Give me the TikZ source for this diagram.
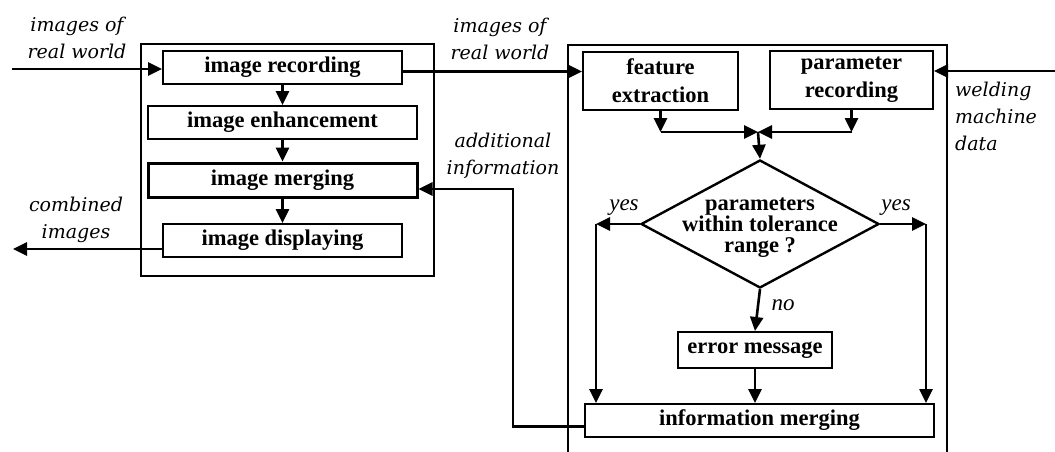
\documentclass[tikz,border=0pt]{standalone}
\usepackage{fontspec}
\setmainfont{Liberation Serif}
\newfontfamily\notefont{DejaVu Serif}
\usetikzlibrary{arrows.meta,shapes.geometric}

\begin{document}
\begin{tikzpicture}[x=1pt,y=-1pt,
		box/.style={draw, line width=2pt, inner sep=0pt, align=center, font=\fontsize{22.5}{28}\selectfont\bfseries},
		decision/.style={draw, diamond, line width=2.4pt, inner sep=0pt},
		frame/.style={draw, line width=2.6pt},
		arr/.style={line width=2.6pt, -{Triangle[length=14pt,width=13pt]}},
		note/.style={inner sep=0pt, align=center, font=\notefont\itshape\fontsize{19}{27}\selectfont},
		answer/.style={inner sep=0pt, font=\itshape\fontsize{23}{26}\selectfont}]
		\useasboundingbox (0,0) rectangle (1055,452);
		
		% frames
		\node[frame, minimum width=293pt, minimum height=232pt] (left) at (287.5,160) {};
		\draw[frame] (568,452) -- (568,45) -- (947,45) -- (947,452);
		
		% image side
		\node[box, minimum width=239pt, minimum height=33pt] (rec) at (282.5,67.5) {image recording};
		\node[box, minimum width=269pt, minimum height=33pt] (enh) at (282.5,122.5) {image enhancement};
		\node[box, line width=3pt, minimum width=269pt, minimum height=34pt] (mer) at (282.5,180) {image merging};
		\node[box, minimum width=239pt, minimum height=33pt] (dsp) at (282.5,240.5) {image displaying};
		
		% checking side
		\node[box, minimum width=155pt, minimum height=58pt] (fex) at (660.5,81) {feature\\extraction};
		\node[box, minimum width=163pt, minimum height=58pt] (par) at (851.5,80) {parameter\\recording};
		\node[decision, minimum width=238pt, minimum height=128pt] (tol) at (760,224) {};
		\node[align=center, inner sep=0pt, font=\fontsize{22.5}{21}\selectfont\bfseries] (toltext) at (760,228) {parameters\\within tolerance\\range ?};
		\node[box, minimum width=154pt, minimum height=36pt] (err) at (755,350) {error message};
		\node[box, minimum width=349pt, minimum height=33pt] (inf) at (759.5,420.5) {information merging};
		
		\coordinate (srcL) at (12,69);
		\coordinate (dstL) at (13,249);
		\coordinate (weld) at (1055,71);
		\coordinate (join) at (758,132);
		\coordinate (yesL) at (596,224);
		\coordinate (yesR) at (926,224);
		\coordinate (back) at (513,189);
		
		% labels
		\node[note] (inL) at (77,38) {images of\\real world};
		\node[note] (inM) at (500,39) {images of\\real world};
		\node[note] (comb) at (76,220) {combined\\images};
		\node[note] (addi) at (503,156) {additional\\information};
		\node[note, align=left, anchor=west] (wmd) at (955,116) {welding\\machine\\data};
		\node[answer] (yesl) at (624,208) {yes};
		\node[answer] (yesr) at (896,208) {yes};
		\node[answer] (no) at (783,305) {no};
		
		% connectors
		\draw[arr] (srcL) -- (srcL -| rec.west);
		\draw[arr] (rec.south) -- (enh.north);
		\draw[arr] (enh.south) -- (mer.north);
		\draw[arr] (mer.south) -- (dsp.north);
		\draw[arr] (dsp.west |- dstL) -- (dstL);
		\draw[arr] ([yshift=-4pt]rec.east) -- ([yshift=-4pt]rec.east -| fex.west);
		\draw[arr] (weld) -- (weld -| par.east);
		\draw[arr] (fex.south) -- (fex.south |- join);
		\draw[arr] (par.south) -- (par.south |- join);
		\draw[arr] (fex.south |- join) -- (join);
		\draw[arr] (par.south |- join) -- (join);
		\draw[arr] (join) -- (tol.north);
		\draw[arr] (tol.west) -- (yesL);
		\draw[arr] (yesL) -- (yesL |- inf.north);
		\draw[arr] (tol.east) -- (yesR);
		\draw[arr] (yesR) -- (yesR |- inf.north);
		\draw[arr] (tol.south) -- (err.north);
		\draw[arr] (err.south) -- (err.south |- inf.north);
		\draw[arr] ([yshift=-6pt]inf.west) -| (back) -- (back -| mer.east);
	\end{tikzpicture}
\end{document}
